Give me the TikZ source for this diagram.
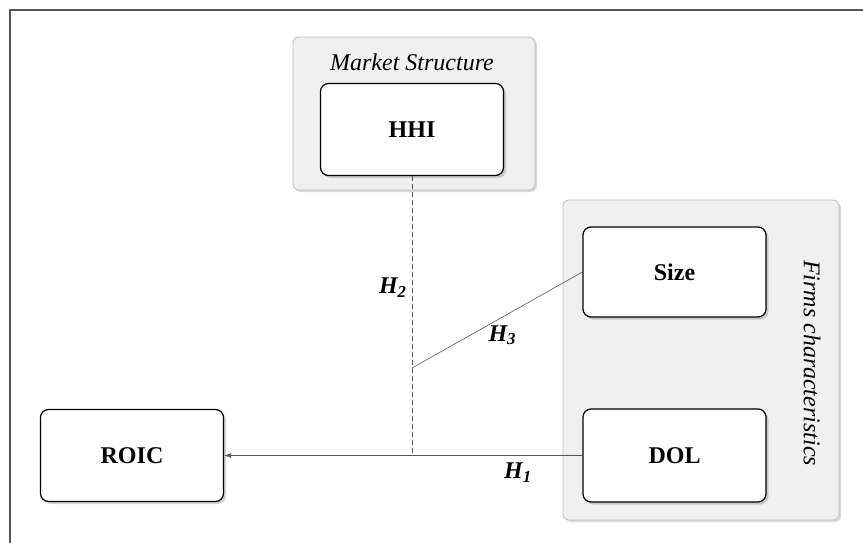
\documentclass[tikz,border=0pt]{standalone}
\usepackage{fontspec}
\setmainfont{Liberation Serif}
\usepackage{xcolor}
\usepackage{tikz}
\usetikzlibrary{shadows,arrows.meta}

\definecolor{panelfill}{HTML}{F0F0F0}
\definecolor{panelline}{HTML}{BDBDBD}
\definecolor{linkgray}{HTML}{555555}

\begin{document}
\begin{tikzpicture}[x=1pt, y=-1pt,
    var/.style={rectangle, rounded corners=8pt, draw=black, line width=1.2pt, fill=white,
        minimum width=183pt, minimum height=92pt, font=\fontsize{24}{27}\selectfont\bfseries,
        drop shadow={opacity=0.35, shadow xshift=2.5pt, shadow yshift=-2.5pt}},
    panel/.style={rectangle, rounded corners=6pt, draw=panelline, line width=0.8pt, fill=panelfill,
        drop shadow={opacity=0.3, shadow xshift=2pt, shadow yshift=-2pt}},
    paneltitle/.style={font=\fontsize{24}{27}\selectfont\itshape},
    link/.style={draw=linkgray, line width=0.8pt},
    hyp/.style={font=\fontsize{24}{27}\selectfont\bfseries\itshape, inner sep=1pt}]
    \useasboundingbox (0,0) rectangle (863,543);
    % outer frame
    \draw[linkgray, line width=1.6pt] (10,543) -- (10,10) -- (863,10);
    % grouping panels
    \node[panel, minimum width=242pt, minimum height=153pt] (market) at (414,113.5) {};
    \node[panel, minimum width=276pt, minimum height=320pt] (firms) at (701,360) {};
    \node[paneltitle] (markettitle) at (412,62) {Market Structure};
    \node[paneltitle, rotate=-90] (firmstitle) at (812,363) {Firms characteristics};
    % variables
    \node[var] (HHI) at (412,129.5) {HHI};
    \node[var, minimum height=90pt] (Size) at (674.5,272) {Size};
    \node[var, minimum height=93pt] (DOL) at (674.5,455.5) {DOL};
    \node[var] (ROIC) at (132,455.5) {ROIC};
    \coordinate (join) at (412,455.5);
    \coordinate (bend) at (412,368);
    % hypotheses
    \path (DOL.west) edge [link, -{Latex[length=7pt, width=5pt]}] node[hyp, pos=0.18, below=6pt] {H\textsubscript{1}} (ROIC.east);
    \path (HHI.south) edge [link, dash pattern=on 5pt off 3pt] node[hyp, pos=0.4, left=4pt] {H\textsubscript{2}} (join);
    \path (Size.west) edge [link, line width=0.6pt] node[hyp, pos=0.47, below=7pt] {H\textsubscript{3}} (bend);
\end{tikzpicture}
\end{document}
